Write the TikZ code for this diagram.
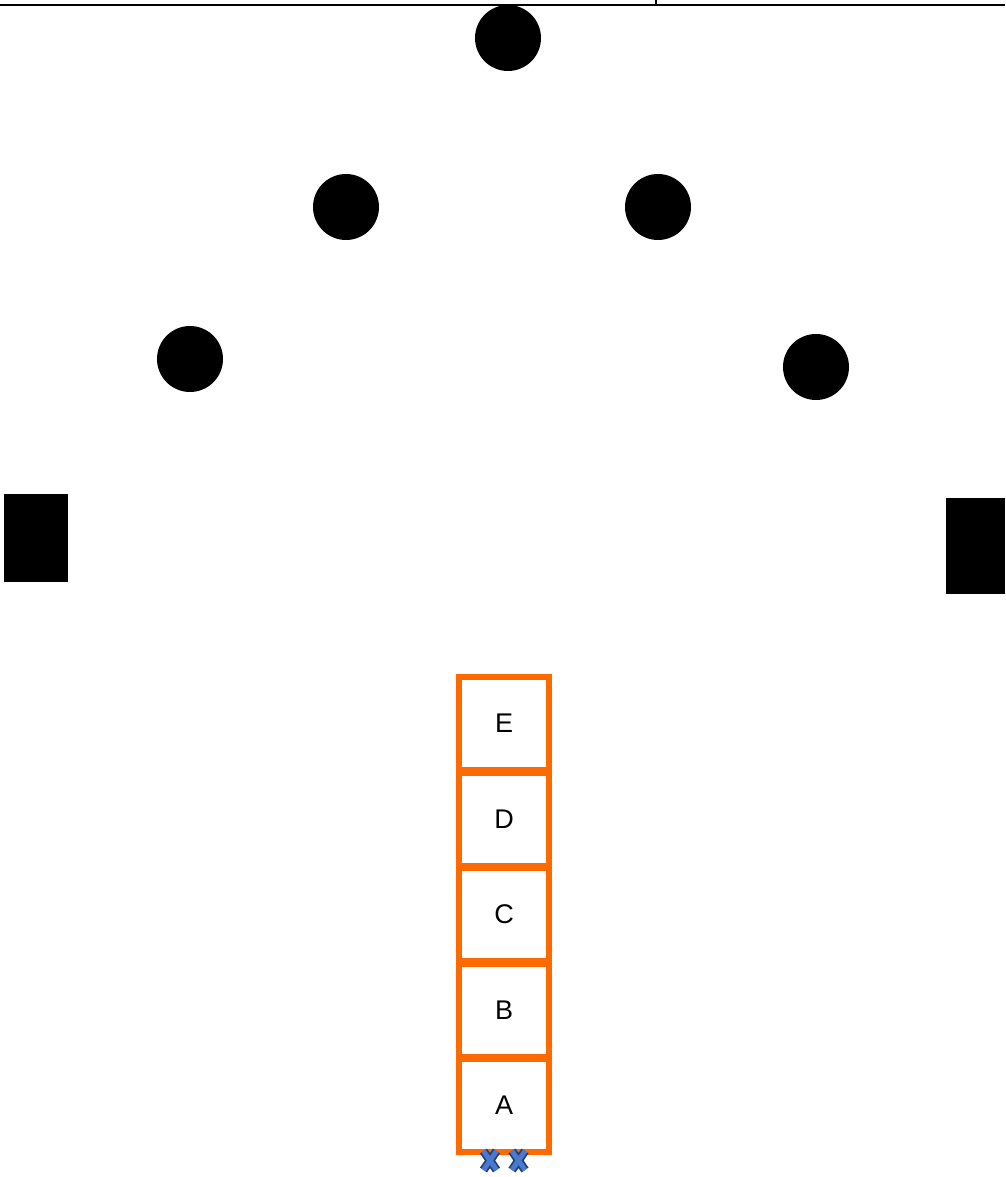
\documentclass[tikz,border=0pt]{standalone}
\usepackage{fontspec}
\setmainfont{Liberation Sans}
\usepackage{tikz}
\usetikzlibrary{positioning}

\definecolor{boxorange}{HTML}{FF6A00}
\definecolor{xblue}{HTML}{4A7AD0}
\definecolor{xdark}{HTML}{1F3F7A}

\begin{document}
\begin{tikzpicture}[x=1pt,y=-1pt,
      player/.style={circle,fill=black,inner sep=0pt,minimum size=66pt},
      goalpost/.style={rectangle,fill=black,inner sep=0pt},
      stackbox/.style={rectangle,draw=boxorange,line width=6pt,fill=white,
            minimum width=90pt,minimum height=93pt,font=\fontsize{27}{30}\selectfont}]
      \useasboundingbox (0,0) rectangle (1005,1177);
      % top edge
      \coordinate (tl) at (0,5);
      \coordinate (tr) at (1005,5);
      \coordinate (tick) at (656,0);
      \draw[line width=2pt](tl)--(tr);
      \draw[line width=1.5pt](tick)--++(0,5);
      % players
      \node[player](p1)at(508, 38){};
      \node[player](p2)at(346,207){};
      \node[player](p3)at(658,207){};
      \node[player](p4)at(190,359){};
      \node[player](p5)at(816,367){};
      % side blocks
      \node[goalpost,minimum width=64pt,minimum height=88pt](gl)at(36,538){};
      \node[goalpost,minimum width=59pt,minimum height=96pt](gr)at(975.5,546){};
      % stack
      \node[stackbox](bE)at(504,723.5){E};
      \node[stackbox](bD)at(504,819){D};
      \node[stackbox](bC)at(504,914.5){C};
      \node[stackbox](bB)at(504,1010){B};
      \node[stackbox](bA)at(504,1105.5){A};
      % crosses
      \foreach \cx in {490,518.5}{
        \draw[xdark,line width=8.5pt](\cx-6.5,1151)--(\cx+6.5,1170) (\cx+6.5,1151)--(\cx-6.5,1170);
        \draw[xblue,line width=5pt](\cx-6.5,1151)--(\cx+6.5,1170) (\cx+6.5,1151)--(\cx-6.5,1170);
      }
\end{tikzpicture}
\end{document}
